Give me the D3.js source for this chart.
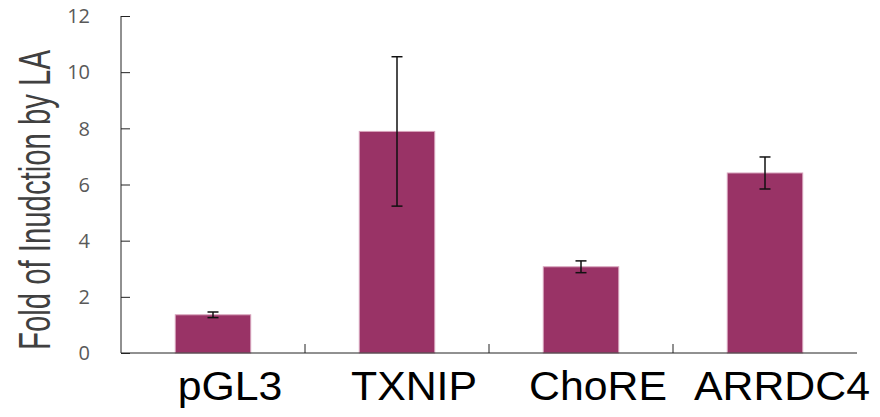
<!DOCTYPE html>
<html>
<head>
<meta charset="utf-8">
<script src="https://cdn.jsdelivr.net/npm/d3@7"></script>
<style>
  body { margin: 0; background: #fff; }
  svg { display: block; }
</style>
</head>
<body>
<div id="graph"></div>
<script>
  const categories = ["pGL3", "TXNIP", "ChoRE", "ARRDC4"];
  const values = [1.36, 7.89, 3.07, 6.41];
  const errors = [0.10, 2.66, 0.21, 0.57];
  const yTicks = [0, 2, 4, 6, 8, 10, 12];

  const width = 880, height = 417;
  const m = { left: 121, right: 857, top: 16, bottom: 353 };

  const svg = d3.select("#graph").append("svg")
    .attr("width", width)
    .attr("height", height);

  const x = d3.scaleBand().domain(categories).range([m.left, m.right]).padding(0);
  const y = d3.scaleLinear().domain([0, 12]).range([m.bottom, m.top]);
  const barW = x.bandwidth() * 0.41;

  // bars
  svg.append("g")
    .selectAll("rect")
    .data(categories)
    .join("rect")
    .attr("x", d => x(d) + (x.bandwidth() - barW) / 2)
    .attr("y", (d, i) => y(values[i]))
    .attr("width", barW)
    .attr("height", (d, i) => y(0) - y(values[i]))
    .attr("fill", "#993366")
    .attr("stroke", "#d7a3bb")
    .attr("stroke-width", 1);

  // error bars
  const eb = svg.append("g").attr("stroke", "#111").attr("stroke-width", 1.5);
  categories.forEach((c, i) => {
    const cx = x(c) + x.bandwidth() / 2;
    const hi = y(values[i] + errors[i]), lo = y(values[i] - errors[i]);
    eb.append("line").attr("x1", cx).attr("x2", cx).attr("y1", hi).attr("y2", lo);
    eb.append("line").attr("x1", cx - 5.5).attr("x2", cx + 5.5).attr("y1", hi).attr("y2", hi);
    eb.append("line").attr("x1", cx - 5.5).attr("x2", cx + 5.5).attr("y1", lo).attr("y2", lo);
  });

  // y axis
  const yAxis = svg.append("g")
    .attr("transform", `translate(${m.left},0)`)
    .call(d3.axisRight(y).tickValues(yTicks).tickSize(9).tickFormat(""));
  yAxis.select(".domain").attr("d", `M0,${m.top}V${m.bottom}`);
  yAxis.selectAll("line, path").attr("stroke", "#222");

  svg.append("g")
    .selectAll("text")
    .data(yTicks)
    .join("text")
    .attr("x", 90)
    .attr("y", d => y(d))
    .attr("dy", "0.36em")
    .attr("text-anchor", "end")
    .attr("fill", "#595959")
    .style("font", "20px 'Open Sans', sans-serif")
    .text(d => d);

  // x axis
  svg.append("line")
    .attr("x1", m.left).attr("x2", m.right)
    .attr("y1", m.bottom).attr("y2", m.bottom)
    .attr("stroke", "#222");
  svg.append("g")
    .selectAll("line")
    .data(categories.slice(1))
    .join("line")
    .attr("x1", d => x(d)).attr("x2", d => x(d))
    .attr("y1", m.bottom).attr("y2", m.bottom - 9)
    .attr("stroke", "#222");

  svg.append("g")
    .selectAll("text")
    .data(categories)
    .join("text")
    .attr("transform", d => `translate(${x(d) + x.bandwidth() / 2 + 17},400) scale(1.07,1)`)
    .attr("text-anchor", "middle")
    .attr("fill", "#000")
    .style("font", "40px 'Liberation Sans', Arial, sans-serif")
    .text(d => d);

  // y title
  svg.append("text")
    .attr("transform", "translate(50,200) rotate(-90)")
    .attr("text-anchor", "middle")
    .attr("fill", "#404040")
    .attr("textLength", 300)
    .attr("lengthAdjust", "spacingAndGlyphs")
    .style("font", "44px 'Liberation Sans', Arial, sans-serif")
    .text("Fold of Inudction by LA");
</script>
</body>
</html>
